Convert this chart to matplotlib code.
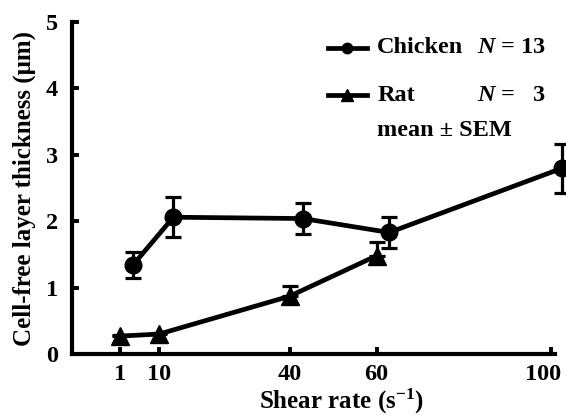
import matplotlib
matplotlib.use("Agg")
import matplotlib.pyplot as plt
import matplotlib.transforms as mtransforms

# Cell-free layer thickness vs. shear rate, mean +/- SEM
chicken_shear = [4, 13.3, 43.1, 62.9, 102.7]
chicken_cfl = [1.34, 2.06, 2.04, 1.83, 2.80]
chicken_sem = [0.20, 0.30, 0.23, 0.23, 0.37]

rat_shear = [1, 10, 40, 60]
rat_cfl = [0.27, 0.30, 0.87, 1.48]
rat_sem = [0.02, 0.02, 0.15, 0.20]   # only the upper bar is drawn

xticks = [1, 10, 40, 60, 100]
yticks = [0, 1, 2, 3, 4, 5]

plt.rcParams['font.family'] = 'Liberation Serif'
plt.rcParams['font.weight'] = 'bold'
plt.rcParams['axes.labelweight'] = 'bold'
plt.rcParams['mathtext.fontset'] = 'custom'
plt.rcParams['mathtext.rm'] = 'Liberation Serif:bold'
plt.rcParams['mathtext.it'] = 'Liberation Serif:italic:bold'
plt.rcParams['mathtext.bf'] = 'Liberation Serif:bold'

fig = plt.figure(figsize=(5.66, 4.17), dpi=100)
ax = fig.add_axes([72 / 566, 63 / 417, 483 / 566, 332 / 417])

lw = 3.4
ax.errorbar(chicken_shear, chicken_cfl, yerr=chicken_sem, color='black', lw=lw,
            marker='o', ms=12, elinewidth=2.3, capsize=6, capthick=2.3,
            clip_on=False, zorder=3)
ax.errorbar(rat_shear, rat_cfl, yerr=[[0] * len(rat_sem), rat_sem],
            color='black', lw=lw, marker='^', ms=13.5, elinewidth=2.3,
            capsize=6, capthick=2.3, clip_on=False, zorder=3)

ax.set_xlim(-10, 101)
ax.set_ylim(0, 5)
ax.set_xticks(xticks)
ax.set_yticks(yticks)
ax.tick_params(direction='in', length=5, width=2.8, labelsize=17.5)
ax.tick_params(axis='x', pad=7)
ax.tick_params(axis='y', pad=10)
for side in ('top', 'right'):
    ax.spines[side].set_visible(False)
for side in ('left', 'bottom'):
    ax.spines[side].set_linewidth(3.0)

# pull the last x label in from the figure edge
last = ax.get_xticklabels()[-1]
last.set_transform(last.get_transform() +
                   mtransforms.ScaledTranslation(-0.08, 0, fig.dpi_scale_trans))

ax.set_xlabel('Shear rate (s$^{\\mathregular{-1}}$)', fontsize=18)
ax.xaxis.set_label_coords(269 / 483, -0.1)
ax.set_ylabel('Cell-free layer thickness (μm)', fontsize=18)
ax.yaxis.set_label_coords(-0.074, 0.5)

# legend drawn by hand: line with centred marker, name, sample size
legend_rows = [('o', 'Chicken', '13', 0.922, 7.5), ('^', 'Rat', '  3', 0.78, 9)]
for mk, name, n, yy, ms in legend_rows:
    ax.plot([0.53, 0.57, 0.61], [yy, yy, yy], transform=ax.transAxes,
            color='black', lw=lw, marker=mk, ms=ms, markevery=[1],
            clip_on=False)
    ax.text(0.632, yy, name, transform=ax.transAxes, fontsize=17.5, va='center')
    ax.text(0.838, yy, '$\\mathit{N}$ = ' + n, transform=ax.transAxes,
            fontsize=17.5, va='center')
ax.text(0.632, 0.672, 'mean ± SEM', transform=ax.transAxes, fontsize=17.5,
        va='center')

fig.savefig('out.png', dpi=100)
